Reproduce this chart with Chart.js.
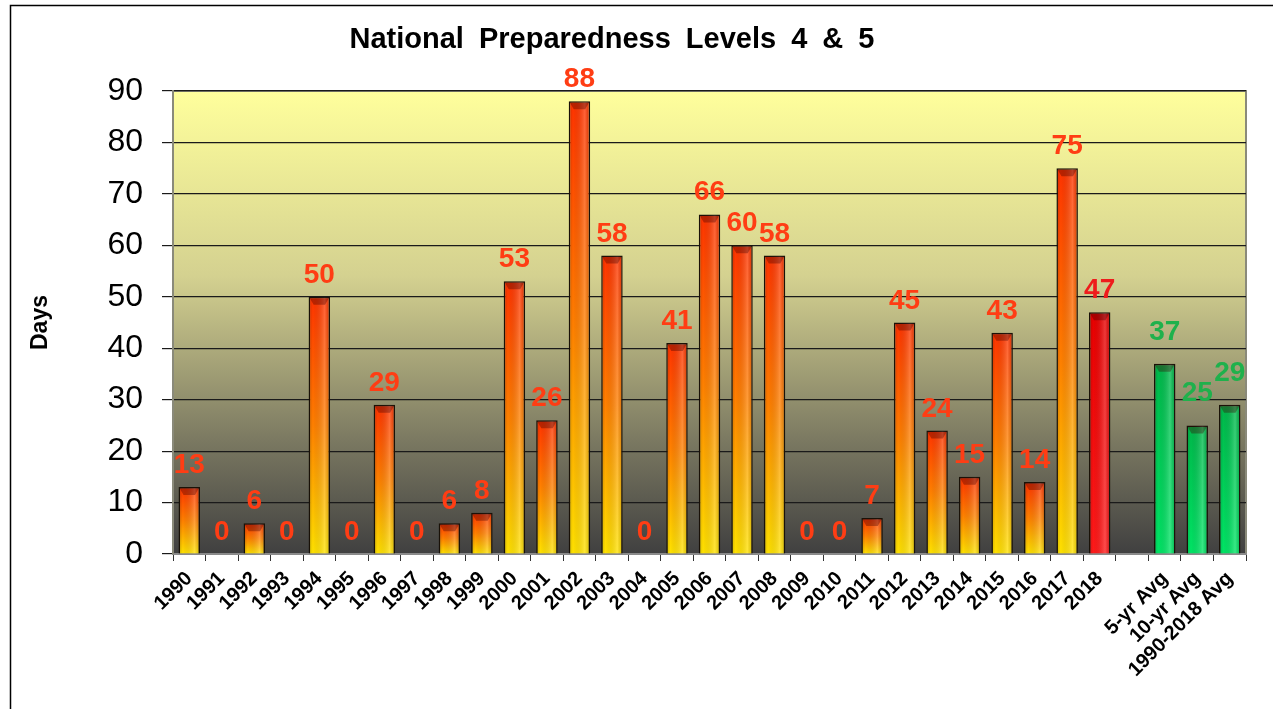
<!DOCTYPE html>
<html>
<head>
<meta charset="utf-8">
<script src="https://cdn.jsdelivr.net/npm/chart.js@4.4.1/dist/chart.umd.min.js"></script>
<style>
  html, body { margin: 0; padding: 0; background: #fff; }
  canvas { display: block; }
</style>
</head>
<body>
<canvas id="npl" width="1273" height="709"></canvas>
<script>
// --- DATA ---
const chartTitle = "National Preparedness Levels 4 & 5";
const yearLabels = ["1990","1991","1992","1993","1994","1995","1996","1997","1998","1999",
                    "2000","2001","2002","2003","2004","2005","2006","2007","2008","2009",
                    "2010","2011","2012","2013","2014","2015","2016","2017","2018"];
const yearDays = [13, 0, 6, 0, 50, 0, 29, 0, 6, 8,
                  53, 26, 88, 58, 0, 41, 66, 60, 58, 0,
                  0, 7, 45, 24, 15, 43, 14, 75, 47];
const currentYear = "2018";
const avgLabels = ["5-yr Avg", "10-yr Avg", "1990-2018 Avg"];
const avgDays = [37, 25, 29];
const yMin = 0, yMax = 90, yStep = 10;

// one empty slot between the years and the averages
const labels = [...yearLabels, "", ...avgLabels];
const values = [...yearDays, null, ...avgDays];

const FONT = "'Liberation Sans', Arial, sans-serif";

function kindOf(label) {
    if (avgLabels.includes(label)) return "avg";
    if (label === currentYear) return "cur";
    return "year";
}

function barFill(context) {
    const chart = context.chart;
    const area = chart.chartArea;
    if (!area || context.type !== "data") return "#ff8800";
    const kind = kindOf(chart.data.labels[context.dataIndex]);
    const y = chart.scales.y;
    const top = y.getPixelForValue(context.raw || 0);
    const bot = y.getPixelForValue(0);
    const g = chart.ctx.createLinearGradient(0, top, 0, Math.max(bot, top + 1));
    if (kind === "year") {
        g.addColorStop(0, "#ff3300");
        g.addColorStop(0.5, "#ff8000");
        g.addColorStop(1, "#ffe200");
    } else if (kind === "cur") {
        g.addColorStop(0, "#e80000");
        g.addColorStop(1, "#ff1a1a");
    } else {
        g.addColorStop(0, "#00b84a");
        g.addColorStop(1, "#00e565");
    }
    return g;
}

// background gradient + frame + title
const backdrop = {
    id: "backdrop",
    beforeDraw(chart) {
        const { ctx, chartArea: a } = chart;
        ctx.save();
        const g = ctx.createLinearGradient(0, a.top, 0, a.bottom);
        g.addColorStop(0, "#ffff9c");
        g.addColorStop(0.4, "#d4d190");
        g.addColorStop(0.75, "#7c7a62");
        g.addColorStop(1, "#404040");
        ctx.fillStyle = g;
        ctx.fillRect(a.left, a.top, a.right - a.left, a.bottom - a.top);
        ctx.strokeStyle = "#8a8a7a";
        ctx.lineWidth = 2;
        ctx.strokeRect(a.left, a.top, a.right - a.left, a.bottom - a.top);

        // outer frame (top and left edges only visible)
        ctx.strokeStyle = "#000";
        ctx.lineWidth = 1.5;
        ctx.beginPath();
        ctx.moveTo(10.5, chart.height);
        ctx.lineTo(10.5, 5.5);
        ctx.lineTo(chart.width, 5.5);
        ctx.stroke();

        ctx.fillStyle = "#000";
        ctx.font = "bold 29px " + FONT;
        ctx.textAlign = "center";
        ctx.textBaseline = "middle";
        if ("wordSpacing" in ctx) ctx.wordSpacing = "7px";
        ctx.fillText(chartTitle, 612, 40);
        ctx.restore();
    }
};

// bevel shading + value labels
const barDecor = {
    id: "barDecor",
    afterDatasetsDraw(chart) {
        const ctx = chart.ctx;
        const meta = chart.getDatasetMeta(0);
        ctx.save();
        meta.data.forEach((bar, i) => {
            const v = chart.data.datasets[0].data[i];
            if (v === null || v === undefined) return;
            const kind = kindOf(chart.data.labels[i]);
            const w = bar.width, left = bar.x - w / 2, h = bar.base - bar.y;
            if (h > 2) {
                const s = ctx.createLinearGradient(left, 0, left + w, 0);
                s.addColorStop(0, "rgba(0,0,0,0.18)");
                s.addColorStop(0.2, "rgba(0,0,0,0)");
                s.addColorStop(0.75, "rgba(255,255,255,0.22)");
                s.addColorStop(1, "rgba(0,0,0,0.15)");
                ctx.fillStyle = s;
                ctx.fillRect(left + 1, bar.y + 1, w - 2, h - 1);
                // dark top bevel
                const bev = Math.min(8, h / 2);
                ctx.fillStyle = "rgba(60,0,0,0.35)";
                ctx.beginPath();
                ctx.moveTo(left + 1, bar.y + 1);
                ctx.lineTo(left + w - 1, bar.y + 1);
                ctx.lineTo(left + w - 5, bar.y + bev);
                ctx.lineTo(left + 5, bar.y + bev);
                ctx.closePath();
                ctx.fill();
            }
            ctx.font = "bold 28px " + FONT;
            ctx.textAlign = "center";
            ctx.textBaseline = "alphabetic";
            ctx.fillStyle = kind === "avg" ? "#1fb14c" : (kind === "cur" ? "#ee1c1c" : "#ff3d14");
            const off = kind === "avg" ? 24 : 14;
            ctx.fillText(String(v), bar.x, bar.y - off);
        });
        ctx.restore();
    }
};

const chart = new Chart(document.getElementById("npl"), {
    type: "bar",
    data: {
        labels: labels,
        datasets: [{
            data: values,
            backgroundColor: barFill,
            borderColor: "#1a1208",
            borderWidth: (c) => (c.raw ? 1.5 : 0),
            barPercentage: 0.66,
            categoryPercentage: 1.0
        }]
    },
    options: {
        responsive: false,
        animation: false,
        layout: { padding: { top: 91, right: 27, left: 0, bottom: 0 } },
        plugins: {
            legend: { display: false },
            title: { display: false },
            tooltip: { enabled: false }
        },
        scales: {
            x: {
                afterFit: (s) => { s.height = 155; },
                grid: { drawOnChartArea: false, drawTicks: true, tickLength: 7, color: "#333", offset: true },
                border: { display: true, color: "#8a8a8a", width: 2 },
                ticks: {
                    autoSkip: false,
                    maxRotation: 45,
                    minRotation: 45,
                    padding: 6,
                    color: "#000",
                    font: { family: FONT, size: 20, weight: "bold" }
                }
            },
            y: {
                min: yMin,
                max: yMax,
                afterFit: (s) => { s.width = 173; },
                grid: { color: "#1a1a1a", lineWidth: 1.2, tickLength: 11 },
                border: { display: true, color: "#8a8a7a", width: 2 },
                ticks: {
                    stepSize: yStep,
                    padding: 19,
                    color: "#000",
                    font: { family: FONT, size: 32 }
                },
                title: {
                    display: true,
                    text: "Days",
                    color: "#000",
                    padding: { top: 27, bottom: 0 },
                    font: { family: FONT, size: 23, weight: "bold" }
                }
            }
        }
    },
    plugins: [backdrop, barDecor]
});
</script>
</body>
</html>
